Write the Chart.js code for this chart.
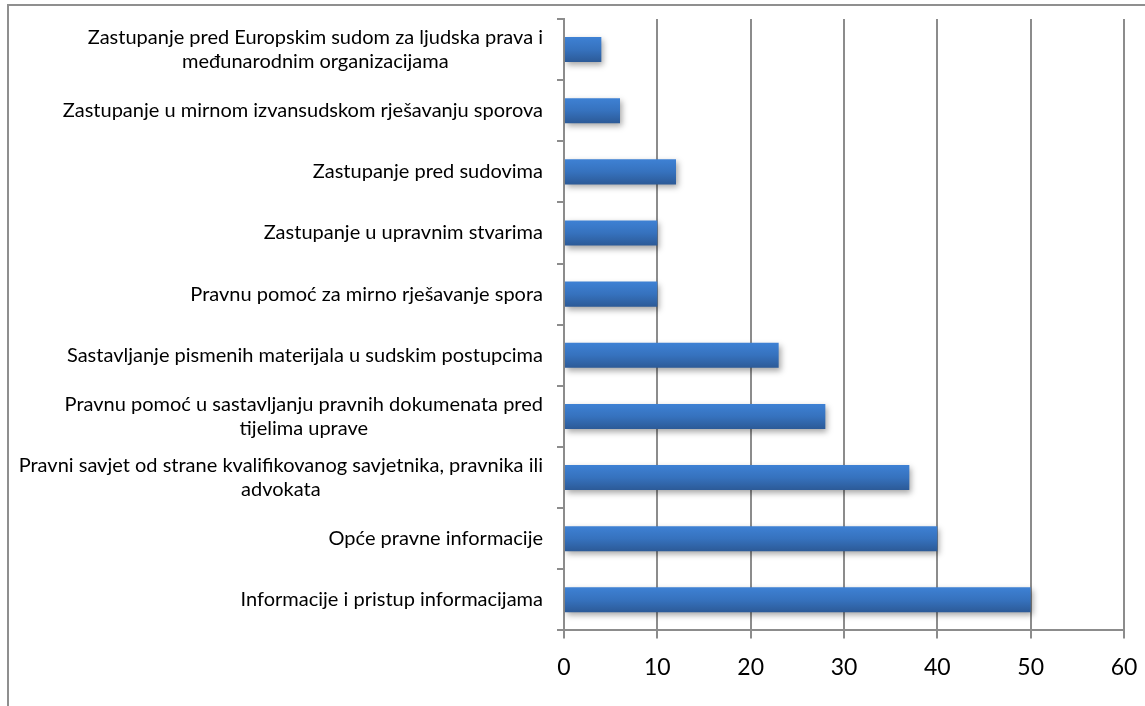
<!DOCTYPE html>
<html>
<head>
<meta charset="utf-8">
<script src="https://cdn.jsdelivr.net/npm/chart.js@4/dist/chart.umd.min.js"></script>
<style>
  html, body { margin: 0; padding: 0; background: #ffffff; overflow: hidden; }
  #wrap { position: relative; width: 1145px; height: 706px; }
  #frame { position: absolute; left: 7px; top: 4px; width: 1200px; height: 800px;
           border-top: 2px solid #8f8f8f; border-left: 2px solid #8f8f8f; pointer-events: none; }
  canvas { position: absolute; left: 0; top: 0; }
</style>
</head>
<body>
<div id="wrap">
  <div id="frame"></div>
  <canvas id="c" width="1145" height="706"></canvas>
</div>
<script>
// ---- data ----
const categories = [
  ["Zastupanje pred Europskim sudom za ljudska prava i", "međunarodnim organizacijama"],
  ["Zastupanje u mirnom izvansudskom rješavanju sporova"],
  ["Zastupanje pred sudovima"],
  ["Zastupanje u upravnim stvarima"],
  ["Pravnu pomoć za mirno rješavanje spora"],
  ["Sastavljanje pismenih materijala u sudskim postupcima"],
  ["Pravnu pomoć u sastavljanju pravnih dokumenata pred", "tijelima uprave"],
  ["Pravni savjet od strane kvalifikovanog savjetnika, pravnika ili", "advokata"],
  ["Opće pravne informacije"],
  ["Informacije i pristup informacijama"]
];
const values = [4, 6, 12, 10, 10, 23, 28, 37, 40, 50];
const xTicks = [0, 10, 20, 30, 40, 50, 60];

// ---- styling ----
const GRID = '#8c8c8c';
const LABEL_FONT = '20px Lato';
const LABEL_LINE = 24;
const LABEL_GAP = 21;

function barGradient(ctx) {
  const chart = ctx.chart;
  const ys = chart.scales && chart.scales.y;
  if (!ys || ctx.dataIndex === undefined) return '#3570bb';
  const yc = ys.getPixelForValue(ctx.dataIndex);
  if (!isFinite(yc)) return '#3570bb';
  const half = 12.5;
  const g = chart.ctx.createLinearGradient(0, yc - half, 0, yc + half);
  g.addColorStop(0, '#3e81d4');
  g.addColorStop(0.5, '#3672be');
  g.addColorStop(1, '#2c5a97');
  return g;
}

const shadowPlugin = {
  id: 'barShadow',
  beforeDatasetsDraw(chart) {
    const c = chart.ctx;
    c.save();
    c.shadowColor = 'rgba(0,0,0,0.35)';
    c.shadowBlur = 6;
    c.shadowOffsetX = 2;
    c.shadowOffsetY = 3;
  },
  afterDatasetsDraw(chart) {
    chart.ctx.restore();
  }
};

const labelPlugin = {
  id: 'catLabels',
  afterDraw(chart) {
    const c = chart.ctx;
    const ys = chart.scales.y;
    const right = chart.chartArea.left - LABEL_GAP;
    c.save();
    c.font = LABEL_FONT;
    c.fillStyle = '#000000';
    c.textAlign = 'center';
    c.textBaseline = 'middle';
    chart.data.labels.forEach((lines, i) => {
      const yc = ys.getPixelForTick(i);
      const w = Math.max(...lines.map(l => c.measureText(l).width));
      const cx = right - w / 2;
      lines.forEach((l, j) => {
        c.fillText(l, cx, yc + (j - (lines.length - 1) / 2) * LABEL_LINE);
      });
    });
    c.restore();
  }
};

new Chart(document.getElementById('c'), {
  type: 'bar',
  data: {
    labels: categories,
    datasets: [{
      data: values,
      backgroundColor: barGradient,
      borderWidth: 0,
      categoryPercentage: 1.0,
      barPercentage: 0.41
    }]
  },
  options: {
    indexAxis: 'y',
    responsive: false,
    devicePixelRatio: 1,
    animation: false,
    layout: { padding: { top: 19, right: 21, bottom: 10, left: 0 } },
    plugins: { legend: { display: false }, tooltip: { enabled: false } },
    scales: {
      x: {
        min: 0, max: 60,
        afterBuildTicks(scale) { scale.ticks = xTicks.map(v => ({ value: v })); },
        afterFit(scale) { scale.paddingRight = 0; scale.paddingLeft = 0; },
        grid: { color: GRID, lineWidth: 2, tickLength: 8, tickColor: GRID },
        border: { color: GRID, width: 2 },
        ticks: { color: '#000000', font: { family: 'Lato', size: 23 }, padding: 15, maxRotation: 0 }
      },
      y: {
        grid: { drawOnChartArea: false, color: GRID, lineWidth: 2, tickLength: 7, tickColor: GRID },
        border: { color: GRID, width: 2 },
        ticks: { display: false },
        afterFit(scale) { scale.width = 564; }
      }
    }
  },
  plugins: [shadowPlugin, labelPlugin]
});
</script>
</body>
</html>
